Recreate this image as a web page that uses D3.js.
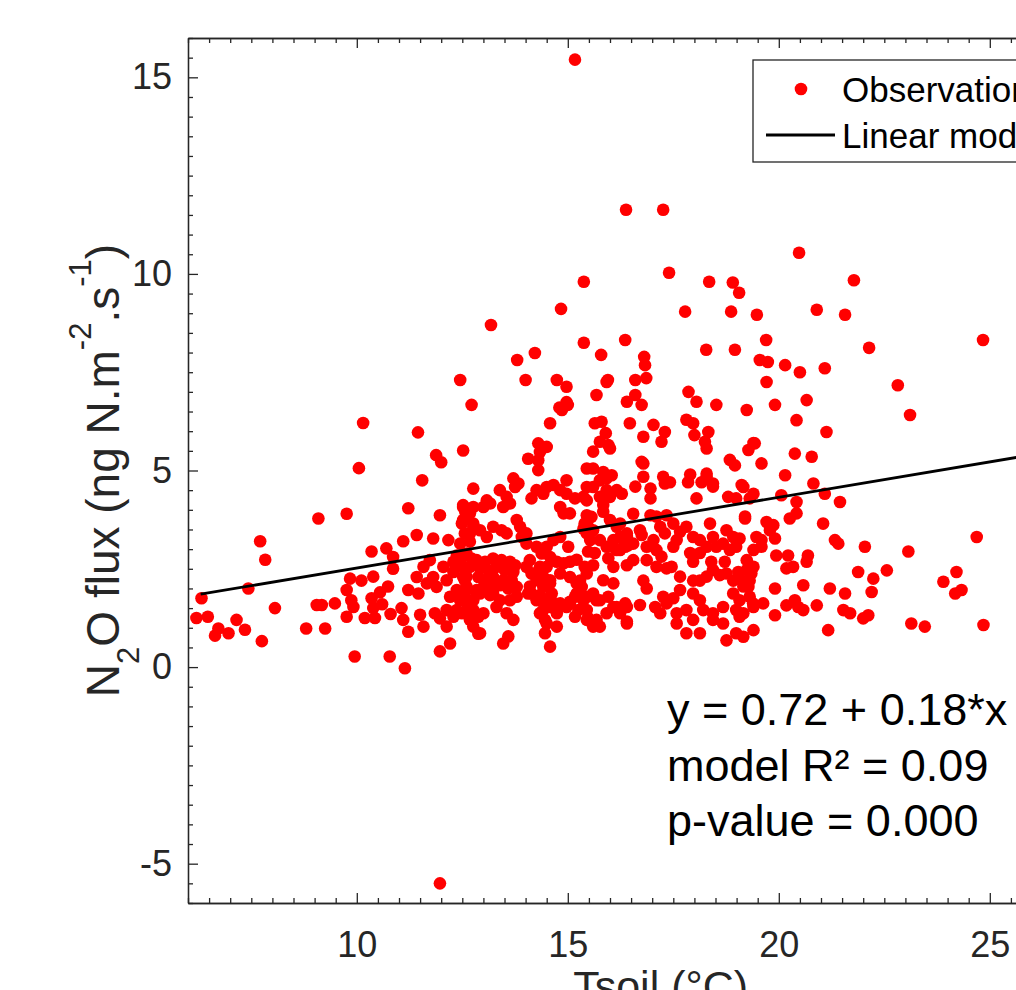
<!DOCTYPE html>
<html>
<head>
<meta charset="utf-8">
<script src="https://cdn.jsdelivr.net/npm/d3@7"></script>
<style>
  body { margin: 0; background: #fff; overflow: hidden; }
  svg { display: block; font-family: "Liberation Sans", Arial, Helvetica, sans-serif; }
</style>
</head>
<body>
<div id="chart"></div>
<script>
// observations: [Tsoil (°C), N2O flux]
var observations = [
  [6.2,1.25],[6.32,1.75],[6.47,1.28],[6.64,0.8],[6.72,0.98],[6.96,0.86],[7.15,1.2],[7.35,0.95],[7.43,2.0],[7.71,3.2],
  [7.83,2.73],[7.75,0.66],[8.06,1.5],[8.8,0.98],[9.25,0.98],[9.09,3.78],[9.76,3.9],[9.05,1.58],[9.17,1.58],[9.48,1.62],
  [9.76,1.96],[9.87,1.7],[9.92,1.53],[9.76,1.28],[9.84,2.25],[9.95,0.27],
  [10.11,2.2],[10.19,1.25],[10.35,1.75],[10.39,1.5],[10.43,1.25],[10.35,2.94],[10.7,3.02],[10.86,2.8],[10.86,2.5],[10.74,2.05],
  [10.39,2.3],[10.78,0.27],[10.05,5.06],[10.15,6.21],[10.6,1.6],[10.8,1.35],[10.55,1.9],
  [11.06,1.5],[11.1,1.2],[11.22,0.9],[11.22,1.96],[11.46,1.87],[11.42,3.36],[11.1,3.2],[11.22,4.04],[11.81,3.27],[11.97,3.86],
  [11.5,1.33],[11.58,1.03],[11.85,1.37],[11.14,-0.03],[11.97,0.4],[11.42,2.29],[11.58,2.55],[11.73,2.72],[11.81,2.29],[11.66,2.13],
  [11.89,2.04],[11.97,1.24],[11.45,5.97],[11.88,5.39],[11.55,4.75],[11.97,-5.5],
  [12.17,3.23],[12.13,1.03],[12.21,0.6],[12.57,3.95],[12.05,2.55],[12.13,2.21],[12.29,2.42],[12.37,1.96],[12.52,2.29],[12.21,1.79],
  [12.45,1.7],[12.37,1.45],[12.29,1.28],[12.6,1.96],[12.13,1.45],[12.37,2.84],[12.29,2.68],[12.6,2.89],[12.45,3.14],[12.72,2.76],
  [12.52,4.07],[12.6,3.91],[12.76,4.07],[12.49,3.65],[12.76,3.65],[12.56,3.4],[12.68,3.19],[12.84,2.72],[12.88,2.29],[12.84,1.96],
  [12.76,1.7],[12.68,1.45],[12.88,1.28],[12.88,0.85],[12.45,7.3],[12.72,6.67],[12.52,5.51],[12.0,5.21],[12.76,4.54],[12.52,4.12],
  [12.68,3.91],[12.52,3.74],[12.76,3.57],[12.68,3.4],[12.92,3.48],[12.45,2.72],[12.52,2.55],[12.6,2.3],[12.68,2.55],[12.92,0.86],
  [12.76,1.03],[12.76,1.45],[12.6,1.7],[12.6,2.05],[12.84,1.87],[12.56,2.21],[12.52,1.87],[12.64,1.53],[12.49,1.37],[12.68,1.2],
  [12.56,1.7],[12.92,2.51],[12.92,1.87],
  [13.18,8.7],[13.8,7.81],[13.71,4.8],[13.83,4.67],[13.75,4.58],[13.39,4.5],[13.55,4.33],[13.47,4.07],[13.63,4.16],[13.08,4.24],
  [13.0,4.07],[13.16,4.16],[13.08,3.31],[13.23,3.57],[13.43,3.48],[13.55,3.4],[13.79,3.74],[13.87,3.57],[13.91,3.31],[13.04,2.68],
  [13.23,2.76],[13.43,2.72],[13.63,2.68],[13.75,2.59],[13.12,2.46],[13.31,2.55],[13.51,2.46],[13.71,2.42],[13.04,2.21],[13.23,2.29],
  [13.47,2.21],[13.67,2.21],[13.0,2.04],[13.19,2.0],[13.39,2.08],[13.59,2.0],[13.79,2.04],[13.16,1.83],[13.79,1.79],[13.63,1.7],
  [13.55,1.37],[13.71,1.2],[13.39,1.7],[13.31,1.53],[13.23,1.87],[13.59,0.78],[13.47,0.6],[13.0,1.37],
  [14.22,7.99],[14.0,7.3],[14.74,7.3],[14.58,6.2],[14.84,9.11],[14.8,6.6],[14.97,6.74],[14.97,7.13],[14.86,6.54],[14.3,5.69],
  [14.34,5.47],[14.3,5.26],[14.3,5.01],[14.06,5.3],[14.5,5.6],[14.14,4.29],[14.26,4.5],[14.42,4.41],[14.5,4.58],[14.66,4.63],
  [14.82,4.5],[14.97,4.75],[14.97,4.41],[14.82,4.07],[14.9,3.91],[14.02,3.4],[14.02,3.14],[14.1,2.72],[14.26,3.06],[14.38,2.89],
  [14.5,3.06],[14.58,2.8],[14.34,2.55],[14.18,2.38],[14.42,2.29],[14.5,2.55],[14.66,3.23],[14.82,3.31],[14.74,2.68],[14.9,2.64],
  [14.82,2.38],[14.58,2.13],[14.62,1.87],[14.42,1.7],[14.62,1.66],[14.82,1.62],[14.97,1.53],[14.5,1.11],[14.46,0.86],[14.42,1.45],
  [14.34,1.37],[14.58,0.52],[14.1,2.05],[14.14,1.87],[14.26,1.79],[14.34,1.83],[14.02,2.55],[14.14,2.38],[14.26,2.21],[14.42,2.04],
  [14.58,2.21],[14.06,1.87],[14.26,1.7],[14.58,1.53],[14.74,1.37],[14.46,1.2],[14.74,1.03],
  [15.17,15.45],[15.38,9.8],[15.38,8.25],[15.79,7.94],[15.95,7.3],[15.0,6.67],[15.68,6.92],[15.92,7.25],[15.64,6.2],[15.8,6.24],
  [15.9,5.95],[15.76,5.73],[15.96,5.65],[16.0,5.56],[15.6,5.48],[15.45,5.05],[15.6,5.05],[15.84,4.96],[15.92,4.8],[15.76,4.75],
  [15.17,4.29],[15.37,4.33],[15.45,4.58],[15.05,3.91],[15.01,3.06],[15.37,3.52],[15.45,3.4],[15.45,3.86],[15.56,3.82],[15.4,3.65],
  [15.48,3.57],[15.84,4.12],[15.84,3.95],[15.48,2.94],[15.64,2.9],[15.96,2.77],[15.45,1.79],[15.6,1.87],[15.76,1.7],[15.48,1.25],
  [15.68,1.2],[15.6,1.03],[15.29,2.2],[15.21,1.87],[15.05,1.66],[15.45,2.38],[15.4,2.55],[15.6,2.59],[15.05,2.68],[15.21,2.73],
  [15.05,2.29],[15.21,2.13],[15.33,2.04],[15.17,1.79],[15.37,1.7],[15.05,1.62],[15.25,1.45],[15.45,1.45],[15.17,1.28],[15.45,1.2],
  [15.76,1.03],[15.92,1.37],[15.84,2.21],[15.96,1.79],[15.68,1.7],[15.92,3.06],[15.76,3.23],[15.6,3.48],[15.53,3.23],[15.92,4.5],
  [15.76,4.33],[15.6,4.58],[15.45,4.24],
  [16.38,11.63],[16.36,8.32],[16.81,7.89],[16.83,7.68],[16.86,7.35],[16.4,6.75],[16.6,6.92],[16.75,6.67],[16.6,7.3],[16.47,6.2],
  [16.79,5.86],[16.79,5.18],[16.79,4.84],[16.6,4.59],[16.75,5.22],[16.04,4.88],[16.16,4.5],[16.28,4.41],[16.0,4.33],[16.96,4.29],
  [16.55,3.9],[16.96,3.86],[16.24,3.65],[16.4,3.4],[16.32,3.23],[16.36,3.06],[16.43,3.1],[16.12,3.02],[16.24,2.98],[16.08,2.55],
  [16.79,2.2],[16.87,2.0],[16.71,1.58],[16.75,3.36],[16.0,3.74],[16.16,3.57],[16.24,3.31],[16.08,3.23],[16.4,3.31],[16.55,3.14],
  [16.71,3.48],[16.87,3.06],[16.16,2.98],[16.87,2.72],[16.55,2.72],[16.4,2.59],[16.4,1.16],[16.16,1.53],[16.4,1.53],[16.08,2.13],
  [16.08,1.53],[16.36,1.62],[16.24,1.37],[16.4,1.11],[16.96,4.54],
  [17.26,11.63],[17.4,10.03],[17.78,9.04],[17.03,6.16],[17.3,5.98],[17.22,5.73],[17.26,4.84],[17.42,4.7],[17.3,4.67],[17.86,7.0],
  [17.81,6.29],[17.97,6.2],[17.1,3.83],[17.34,3.86],[17.5,3.65],[17.66,3.44],[17.58,3.23],[17.5,3.06],[17.81,3.57],[17.97,3.31],
  [17.19,3.57],[17.3,3.4],[17.03,3.23],[17.1,2.98],[17.1,2.55],[17.07,1.53],[17.19,1.37],[17.22,2.81],[17.34,2.51],[17.46,2.55],
  [17.66,2.3],[17.9,2.9],[17.97,2.68],[17.97,2.2],[17.66,1.96],[17.5,1.75],[17.26,1.79],[17.34,1.62],[17.97,1.87],[17.58,1.37],
  [17.81,1.45],[17.97,1.2],[17.58,1.11],[17.81,0.86],[17.9,4.9],[17.85,4.7],
  [18.35,9.8],[18.91,9.78],[18.87,9.04],[18.28,8.07],[18.96,8.07],[18.05,6.75],[18.52,6.67],[18.0,5.9],[18.25,5.73],[18.29,5.56],
  [18.33,5.98],[18.84,5.27],[18.96,5.13],[18.29,4.84],[18.44,4.67],[18.17,4.7],[18.29,4.92],[18.44,4.59],[18.8,4.33],[18.99,4.29],
  [18.05,4.29],[18.13,3.23],[18.13,2.9],[18.4,2.68],[18.72,2.68],[18.13,2.2],[18.29,2.3],[18.6,2.34],[18.44,2.47],[18.76,2.38],
  [18.92,2.2],[18.13,1.7],[18.21,1.45],[18.44,1.37],[18.68,1.53],[18.92,1.87],[18.99,1.45],[18.76,3.48],[18.92,3.31],[18.68,3.14],
  [18.84,2.98],[18.99,3.06],[18.37,3.65],[18.44,3.31],[18.52,3.06],[18.29,3.06],[18.44,1.2],[18.68,1.11],[18.99,0.86],[18.76,0.68],
  [18.13,0.86],
  [19.06,9.52],[19.48,8.96],[19.7,8.32],[19.55,7.81],[19.74,7.76],[19.71,7.25],[19.24,6.54],[19.91,6.67],[19.4,5.7],[19.28,5.52],
  [19.43,5.69],[19.59,5.18],[19.12,4.63],[19.31,4.29],[19.2,3.83],[19.16,4.58],[19.4,4.41],[19.47,3.31],[19.4,2.98],[19.24,2.72],
  [19.04,2.42],[19.24,2.47],[19.4,2.55],[19.12,2.2],[19.31,2.2],[19.16,2.05],[19.31,1.79],[19.4,1.53],[19.07,1.28],[19.71,3.69],
  [19.87,3.61],[19.79,3.48],[19.91,3.27],[19.59,3.23],[19.59,3.06],[19.07,3.27],[19.94,2.84],[19.31,2.51],[19.35,2.38],[19.91,2.0],
  [19.28,2.04],[19.07,1.7],[19.39,1.62],[19.63,1.62],[19.16,1.37],[19.91,1.32],[19.16,0.77],[19.4,0.94],[19.2,3.78],
  [20.48,10.54],[20.9,9.09],[20.15,7.68],[20.5,7.5],[20.66,6.79],[20.42,6.28],[20.38,5.43],[20.78,5.35],[20.15,4.88],[20.82,4.67],
  [20.06,4.37],[20.42,4.2],[20.42,3.91],[20.26,3.78],[20.22,2.84],[20.69,2.84],[20.66,2.68],[20.18,2.51],[20.34,2.55],[20.58,2.08],
  [20.18,1.57],[20.38,1.7],[20.46,1.53],[20.58,1.45],[20.9,1.57],
  [21.78,9.84],[21.57,8.96],[21.09,7.6],[21.13,5.98],[21.09,4.41],[21.45,4.2],[21.05,3.65],[21.33,3.23],[21.41,3.14],[22.04,3.06],
  [21.88,2.42],[22.24,2.25],[22.56,2.46],[22.2,1.91],[21.21,2.0],[21.57,1.87],[21.53,1.45],[21.69,1.37],[22.0,1.24],[22.12,1.32],
  [21.17,0.94],[22.14,8.12],[22.82,7.17],[23.11,6.41],[23.07,2.94],[23.14,1.11],[23.46,1.03],[24.84,8.32],[24.69,3.31],[24.85,1.07],
  [23.9,2.17],[24.21,2.42],[24.18,1.87],[24.33,1.96]
];

// linear model
var fitIntercept = 0.72, fitSlope = 0.18;
var fitRange = [6.3, 27];

var xDomain = [6, 28.4], yDomain = [-6, 16];
var xTicks = [10, 15, 20, 25];
var yTicks = [-5, 0, 5, 10, 15];
var minorStep = 0.5;

var legendLabels = ["Observations", "Linear model"];
var statsLines = ["y = 0.72 + 0.18*x", "model R\u00b2 = 0.09", "p-value = 0.000"];

var W = 1016, H = 990;
var margin = {top: 38, left: 188},
    width = 42.2 * (xDomain[1] - xDomain[0]),
    height = 865;

var axisColor = "#262626";

var svg = d3.select("#chart")
  .append("svg")
    .attr("width", W)
    .attr("height", H);

var vis = svg.append("g")
  .attr("transform", "translate(" + margin.left + "," + margin.top + ")");

var x = d3.scaleLinear().domain(xDomain).range([0, width]);
var y = d3.scaleLinear().domain(yDomain).range([height, 0]);

// minor tick values
var xMinor = d3.range(xDomain[0], xDomain[1] + 0.001, minorStep).filter(function(v) { return xTicks.indexOf(v) < 0; });
var yMinor = d3.range(yDomain[0], yDomain[1] + 0.001, minorStep).filter(function(v) { return yTicks.indexOf(v) < 0; });

// plain hyphen for negatives, like the original
var plain = function(d) { return String(d); };

function styleAxis(g) {
  g.select(".domain").attr("stroke", axisColor).attr("stroke-width", 1.3);
  g.selectAll(".tick line").attr("stroke", axisColor).attr("stroke-width", 1.3);
  g.selectAll(".tick text")
    .attr("fill", axisColor)
    .attr("font-family", "'Liberation Sans', Arial, sans-serif")
    .attr("font-size", 36);
}

// points first, axes on top
vis.append("g")
  .selectAll("circle")
  .data(observations)
  .enter()
  .append("circle")
    .attr("cx", function(d) { return x(d[0]); })
    .attr("cy", function(d) { return y(d[1]); })
    .attr("r", 6.3)
    .style("fill", "#ff0000");

// fitted line
vis.append("line")
  .attr("x1", x(fitRange[0]))
  .attr("y1", y(fitIntercept + fitSlope * fitRange[0]))
  .attr("x2", x(fitRange[1]))
  .attr("y2", y(fitIntercept + fitSlope * fitRange[1]))
  .style("stroke", "#000")
  .style("stroke-width", 2.8);

// bottom axis
vis.append("g")
  .attr("transform", "translate(0," + height + ")")
  .call(d3.axisBottom(x).tickValues(xTicks).tickFormat(plain).tickSizeInner(-10).tickSizeOuter(0).tickPadding(28))
  .call(styleAxis);
vis.append("g")
  .attr("transform", "translate(0," + height + ")")
  .call(d3.axisBottom(x).tickValues(xMinor).tickSizeInner(-5).tickSizeOuter(0).tickFormat(""))
  .call(styleAxis);

// top axis
vis.append("g")
  .call(d3.axisTop(x).tickValues(xTicks).tickSizeInner(-10).tickSizeOuter(0).tickFormat(""))
  .call(styleAxis);
vis.append("g")
  .call(d3.axisTop(x).tickValues(xMinor).tickSizeInner(-5).tickSizeOuter(0).tickFormat(""))
  .call(styleAxis);

// left axis
vis.append("g")
  .call(d3.axisLeft(y).tickValues(yTicks).tickFormat(plain).tickSizeInner(-10).tickSizeOuter(0).tickPadding(16))
  .call(styleAxis);
vis.append("g")
  .call(d3.axisLeft(y).tickValues(yMinor).tickSizeInner(-5).tickSizeOuter(0).tickFormat(""))
  .call(styleAxis);

// right axis
vis.append("g")
  .attr("transform", "translate(" + width + ",0)")
  .call(d3.axisRight(y).tickValues(yTicks).tickSizeInner(-10).tickSizeOuter(0).tickFormat(""))
  .call(styleAxis);

// x label
vis.append("text")
  .attr("x", width / 2)
  .attr("y", height + 98)
  .attr("text-anchor", "middle")
  .attr("font-size", 43)
  .attr("fill", axisColor)
  .text("Tsoil (\u00b0C)");

// y label with sub/superscripts
var ylab = svg.append("text")
  .attr("transform", "translate(119," + (margin.top + height / 2) + ") rotate(-90)")
  .attr("text-anchor", "middle")
  .attr("font-size", 46)
  .attr("fill", axisColor);
ylab.append("tspan").text("N");
ylab.append("tspan").attr("font-size", 31).attr("dy", 20).text("2");
ylab.append("tspan").attr("dy", -20).text("O flux (ng N.m");
ylab.append("tspan").attr("font-size", 31).attr("dy", -28).text("-2");
ylab.append("tspan").attr("dy", 28).text(".s");
ylab.append("tspan").attr("font-size", 31).attr("dy", -28).text("-1");
ylab.append("tspan").attr("dy", 28).text(")");

// legend
var leg = svg.append("g").attr("transform", "translate(753,60)");
leg.append("rect")
  .attr("width", 320)
  .attr("height", 102)
  .attr("fill", "#fff")
  .attr("stroke", axisColor)
  .attr("stroke-width", 1.3);
leg.append("circle")
  .attr("cx", 48).attr("cy", 29).attr("r", 6.3)
  .style("fill", "#ff0000");
leg.append("line")
  .attr("x1", 13).attr("x2", 82)
  .attr("y1", 75).attr("y2", 75)
  .style("stroke", "#000").style("stroke-width", 2.8);
leg.selectAll("text.lab")
  .data(legendLabels)
  .enter()
  .append("text")
    .attr("class", "lab")
    .attr("x", 89)
    .attr("y", function(d, i) { return 42 + i * 46; })
    .attr("font-size", 35)
    .attr("fill", "#000")
    .text(function(d) { return d; });

// model stats
svg.append("g")
  .selectAll("text")
  .data(statsLines)
  .enter()
  .append("text")
    .attr("x", 667)
    .attr("y", function(d, i) { return 725 + i * 55.5; })
    .attr("font-size", 45)
    .attr("fill", "#000")
    .text(function(d) { return d; });
</script>
</body>
</html>
